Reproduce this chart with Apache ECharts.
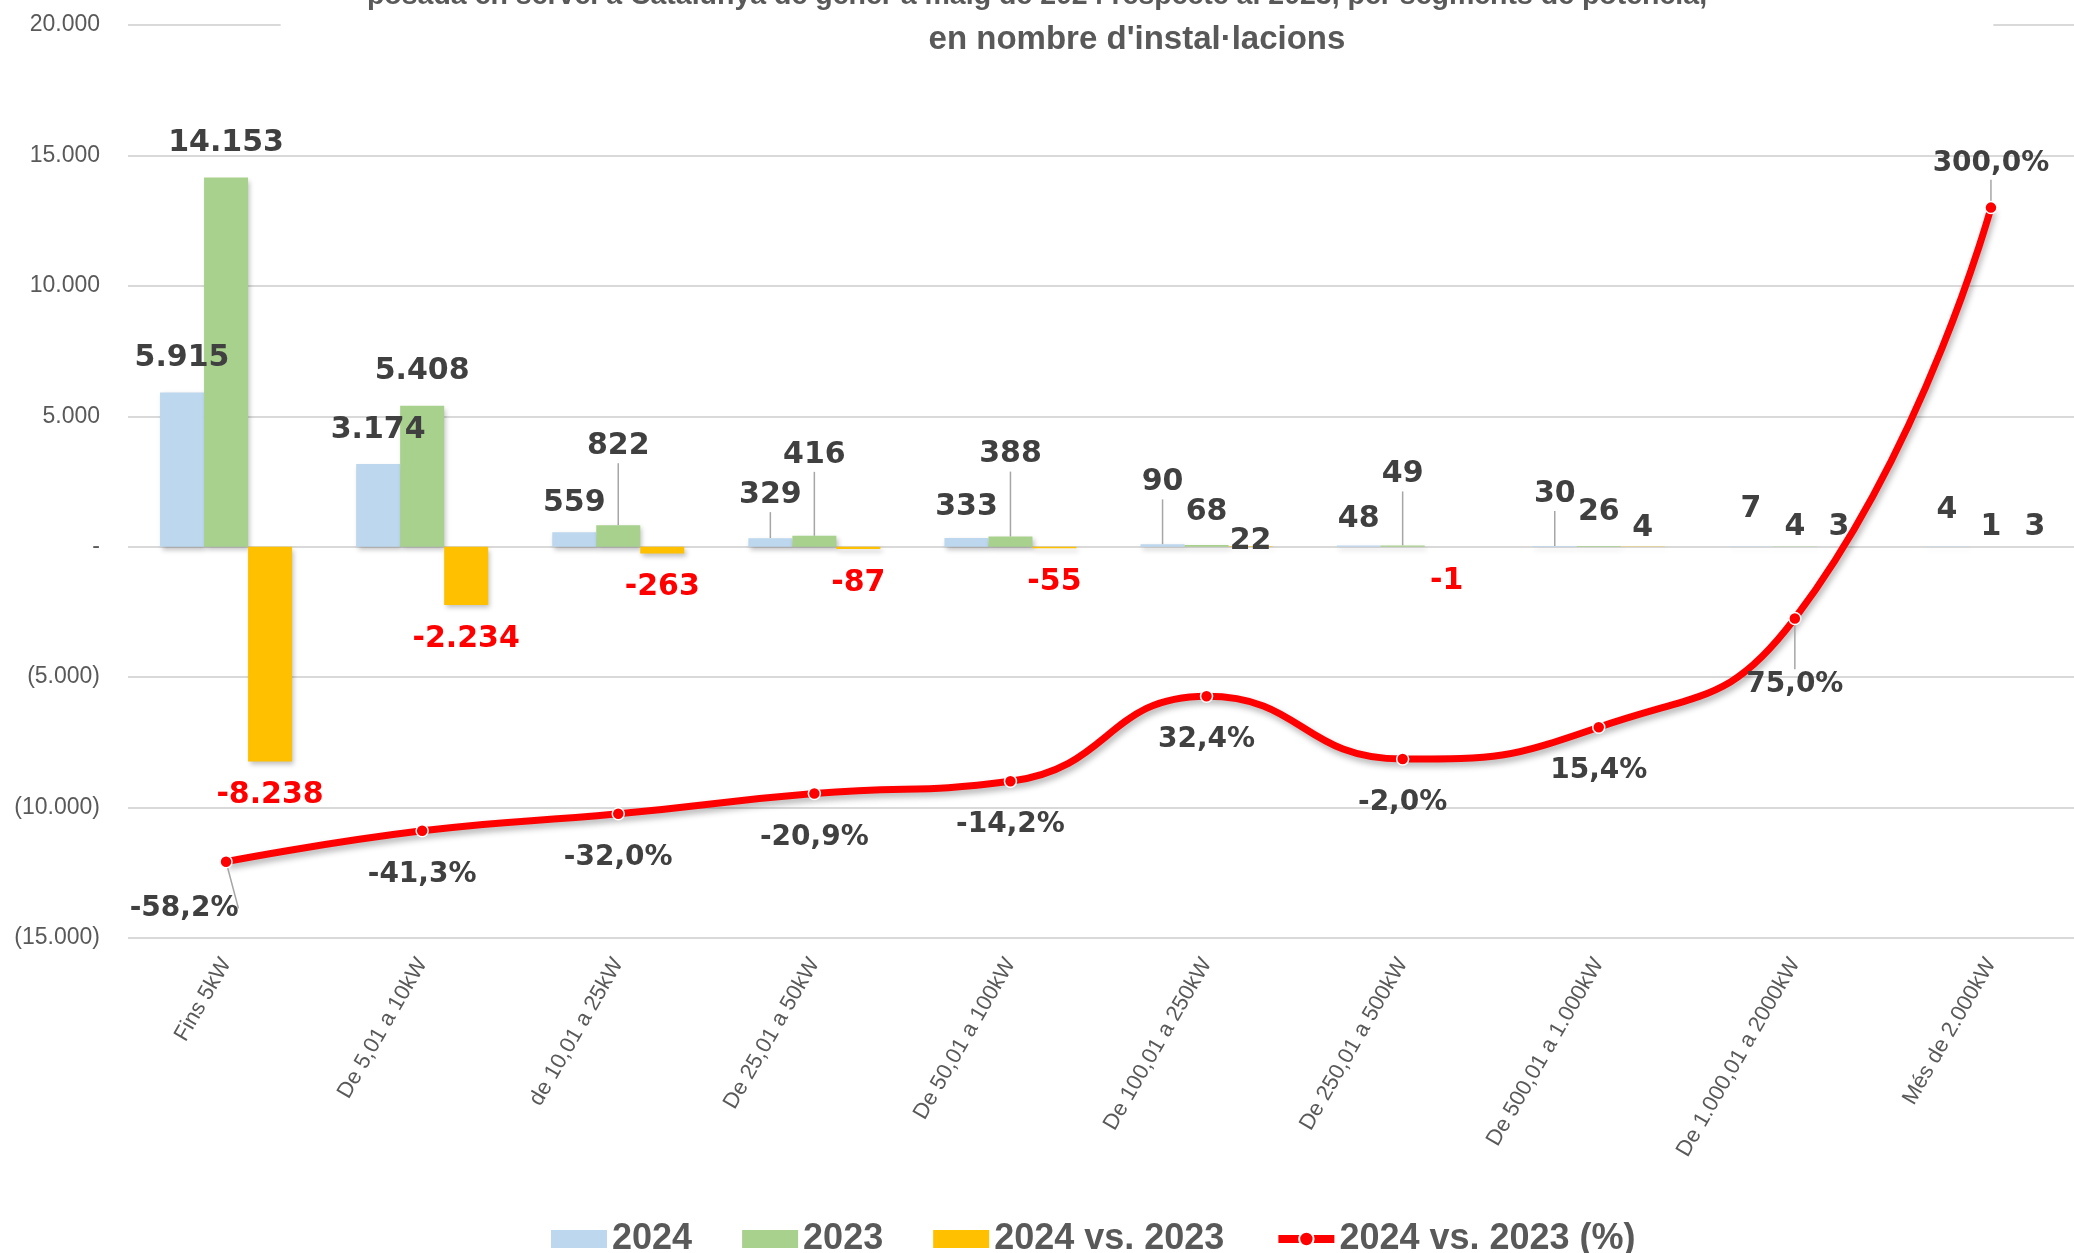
<!DOCTYPE html>
<html>
<head>
<meta charset="utf-8">
<title>Instal·lacions per segment de potència</title>
<script src="https://cdn.jsdelivr.net/npm/echarts@6/dist/echarts.min.js"></script>
<style>
  html, body { margin: 0; padding: 0; background: #fff; }
  #chart { width: 2074px; height: 1253px; }
</style>
</head>
<body>
<div id="chart"></div>
<script>
var categories = ['Fins 5kW', 'De 5,01 a 10kW', 'de 10,01 a 25kW', 'De 25,01 a 50kW', 'De 50,01 a 100kW',
  'De 100,01 a 250kW', 'De 250,01 a 500kW', 'De 500,01 a 1.000kW', 'De 1.000,01 a 2000kW', 'Més de 2.000kW'];
var values2024 = [5915, 3174, 559, 329, 333, 90, 48, 30, 7, 4];
var values2023 = [14153, 5408, 822, 416, 388, 68, 49, 26, 4, 1];
var diffValues = [-8238, -2234, -263, -87, -55, 22, -1, 4, 3, 3];
var pctValues = [-58.2, -41.3, -32.0, -20.9, -14.2, 32.4, -2.0, 15.4, 75.0, 300.0];

// hand-placed labels in the original (px nudges), and which ones get a leader line
var nudge2024 = [0, 0, 5, -9, 3, -28, 8, -18, -3, -2];
var nudge2023 = [0, 0, -45, -47, -48, 1, -37, 0, 15, 15];
var nudgeDiff = [0, 0, 0, 0, 0, 29, 0, 16, 15, 15];
var leaders2024 = [3, 5, 7];
var leaders2023 = [2, 3, 4, 6];
var pctNudgeX = [-42, 0, 0, 0, 0, 0, 0, 0, 0, 0];
var pctNudgeY = [3, 0, 0, 0, 0, 0, 0, 0, 23, 0];
var pctLabelPos = ['bottom', 'bottom', 'bottom', 'bottom', 'bottom', 'bottom', 'bottom', 'bottom', 'bottom', 'top'];
var pctLeaders = [0, 8, 9];

function fmt(v) {
  var s = Math.abs(Math.round(v)).toString().replace(/\B(?=(\d{3})+(?!\d))/g, '.');
  return (v < 0 ? '-' : '') + s;
}

function barData(vals, leaders) {
  return vals.map(function (v, i) {
    return {
      value: v,
      label: { position: v < 0 ? 'bottom' : 'top', color: v < 0 ? '#FF0000' : '#404040' },
      labelLine: { show: leaders.indexOf(i) >= 0 }
    };
  });
}

var chart = echarts.init(document.getElementById('chart'));

var barLabel = {
  show: true,
  distance: 17,
  fontFamily: 'DejaVu Sans',
  fontWeight: 'bold',
  fontSize: 30,
  lineHeight: 34,
  formatter: function (p) { return fmt(p.value); }
};
var leaderStyle = { lineStyle: { color: '#A6A6A6', width: 1.5 } };
var barShadow = { shadowColor: 'rgba(0,0,0,0.25)', shadowBlur: 5, shadowOffsetX: 2, shadowOffsetY: 3 };

var titleText = { fontFamily: 'Liberation Sans', fontWeight: 'bold', fontSize: 33, lineHeight: 40, color: '#595959' };

var option = {
  animation: false,
  backgroundColor: '#fff',
  title: [
    {
      text: "en nombre d'instal·lacions",
      left: 1137 - 648,
      top: 0,
      padding: [20, 648, 6, 648],
      textAlign: 'center',
      textVerticalAlign: 'top',
      backgroundColor: '#fff',
      textStyle: titleText
    },
    {
      text: 'posada en servei a Catalunya de gener a maig de 2024 respecte al 2023, per segments de potència,',
      left: 'center',
      top: -22,
      padding: 0,
      textVerticalAlign: 'top',
      textStyle: { fontFamily: 'Liberation Sans', fontWeight: 'bold', fontSize: 28.5, lineHeight: 36, color: '#595959' }
    }
  ],
  legend: {
    left: 546,
    top: 1216,
    itemWidth: 56,
    itemHeight: 18,
    itemGap: 50,
    textStyle: { fontFamily: 'Liberation Sans', fontWeight: 'bold', fontSize: 36, color: '#595959' },
    data: [
      { name: '2024', icon: 'rect' },
      { name: '2023', icon: 'rect' },
      { name: '2024 vs. 2023', icon: 'rect' },
      { name: '2024 vs. 2023 (%)', lineStyle: { width: 8 } }
    ]
  },
  grid: {
    left: 128,
    right: -15,
    top: 25,
    bottom: 315,
    containLabel: false,
    outerBoundsMode: 'none'
  },
  xAxis: {
    type: 'category',
    data: categories,
    axisLine: { show: false },
    axisTick: { show: false },
    axisLabel: {
      interval: 0,
      rotate: 60,
      margin: 22,
      fontFamily: 'Liberation Sans',
      fontSize: 22,
      color: '#595959'
    }
  },
  yAxis: [
    {
      type: 'value',
      min: -15000,
      max: 20000,
      interval: 5000,
      axisLine: { show: false },
      axisTick: { show: false },
      splitLine: { lineStyle: { color: '#D9D9D9', width: 2 } },
      axisLabel: {
        margin: 28,
        fontFamily: 'Liberation Sans',
        fontSize: 23,
        color: '#595959',
        formatter: function (v) {
          if (v === 0) return '-';
          if (v < 0) return '(' + fmt(-v) + ')';
          return fmt(v);
        }
      }
    },
    {
      type: 'value',
      show: false,
      min: -100,
      max: 400,
      splitLine: { show: false }
    }
  ],
  series: [
    {
      name: '2024',
      type: 'bar',
      barWidth: 44,
      barGap: '0%',
      data: barData(values2024, leaders2024),
      itemStyle: Object.assign({ color: '#BDD7EE' }, barShadow),
      label: barLabel,
      labelLine: leaderStyle,
      labelLayout: function (p) { return { dy: nudge2024[p.dataIndex] }; }
    },
    {
      name: '2023',
      type: 'bar',
      barWidth: 44,
      barGap: '0%',
      data: barData(values2023, leaders2023),
      itemStyle: Object.assign({ color: '#A9D18E' }, barShadow),
      label: barLabel,
      labelLine: leaderStyle,
      labelLayout: function (p) { return { dy: nudge2023[p.dataIndex] }; }
    },
    {
      name: '2024 vs. 2023',
      type: 'bar',
      barWidth: 44,
      barGap: '0%',
      data: barData(diffValues, []),
      itemStyle: Object.assign({ color: '#FFC000' }, barShadow),
      label: barLabel,
      labelLayout: function (p) { return { dy: nudgeDiff[p.dataIndex] }; }
    },
    {
      name: '2024 vs. 2023 (%)',
      type: 'line',
      yAxisIndex: 1,
      smooth: true,
      z: 5,
      symbol: 'circle',
      symbolSize: 12,
      data: pctValues.map(function (v, i) {
        return { value: v, label: { position: pctLabelPos[i] }, labelLine: { show: pctLeaders.indexOf(i) >= 0 } };
      }),
      lineStyle: { color: '#FF0000', width: 7, shadowColor: 'rgba(0,0,0,0.3)', shadowBlur: 6, shadowOffsetX: 2, shadowOffsetY: 4 },
      itemStyle: { color: '#FF0000', borderColor: '#ffffff', borderWidth: 1.5 },
      label: {
        show: true,
        distance: 21,
        fontFamily: 'DejaVu Sans',
        fontWeight: 'bold',
        fontSize: 28,
        lineHeight: 32,
        color: '#404040',
        formatter: function (p) { return p.value.toFixed(1).replace('.', ',') + '%'; }
      },
      labelLine: leaderStyle,
      labelLayout: function (p) { return { dx: pctNudgeX[p.dataIndex], dy: pctNudgeY[p.dataIndex] }; }
    }
  ]
};

chart.setOption(option);
window.addEventListener('resize', function () {
  chart.resize();
});
</script>
</body>
</html>
